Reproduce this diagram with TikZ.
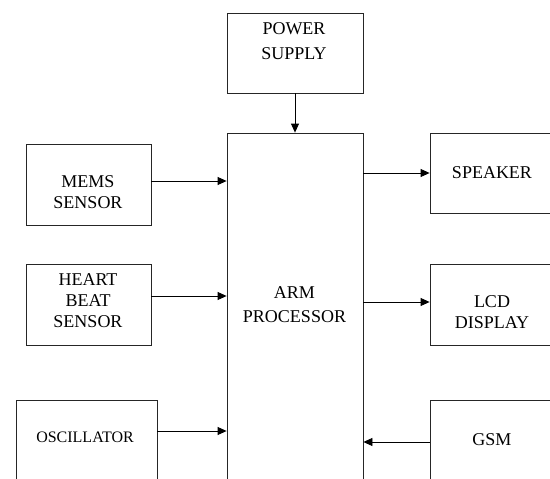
\documentclass[tikz,border=0pt]{standalone}
\usepackage{fontspec}
\setmainfont{Liberation Serif}
\usetikzlibrary{arrows.meta,positioning}

\tikzset{
  block/.style={draw=black!85, line width=0.8pt, inner sep=0pt},
  txt/.style={align=center, inner sep=0pt, font=\fontsize{18}{21}\selectfont},
  wide/.style={txt, font=\fontsize{18}{24.5}\selectfont}
}

\begin{document}
\begin{tikzpicture}[x=1pt, y=-1pt, >={Triangle[length=9pt,width=8pt]}]
  \useasboundingbox (0,0) rectangle (550,479);
  \clip (0,0) rectangle (550,479);
  % blocks
  \node[block, minimum width=136pt, minimum height=80pt] (power) at (295,53) {};
  \node[block, minimum width=136pt, minimum height=420pt] (arm) at (295,343) {};
  \node[block, minimum width=125pt, minimum height=81pt] (mems) at (88.5,184.5) {};
  \node[block, minimum width=125pt, minimum height=81pt] (heart) at (88.5,304.5) {};
  \node[block, minimum width=141pt, minimum height=90pt] (osc) at (86.5,445) {};
  \node[block, minimum width=124pt, minimum height=80pt] (speaker) at (492,173) {};
  \node[block, minimum width=124pt, minimum height=81pt] (lcd) at (492,304.5) {};
  \node[block, minimum width=124pt, minimum height=81pt] (gsm) at (492,440.5) {};
  % texts
  \node[wide] (powert) at (294,41) {POWER\\SUPPLY};
  \node[wide] (armt) at (294.5,304.5) {ARM\\PROCESSOR};
  \node[txt] (memst) at (88,192) {MEMS\\SENSOR};
  \node[txt] (heartt) at (88,301) {HEART\\BEAT\\SENSOR};
  \node[txt, font=\fontsize{16}{19}\selectfont] (osct) at (85,437) {OSCILLATOR};
  \node[txt] (speakert) at (492,173) {SPEAKER};
  \node[txt] (lcdt) at (492,312) {LCD\\DISPLAY};
  \node[txt] (gsmt) at (492,440) {GSM};
  % connections
  \draw[->, line width=0.8pt] (power) -- (arm);
  \draw[->, line width=0.8pt] ([yshift=3.5pt]mems.east) -- ([yshift=3.5pt]mems.east -| arm.west);
  \draw[->, line width=0.8pt] ([yshift=8.5pt]heart.east) -- ([yshift=8.5pt]heart.east -| arm.west);
  \draw[->, line width=0.8pt] ([yshift=14pt]osc.east) -- ([yshift=14pt]osc.east -| arm.west);
  \draw[->, line width=0.8pt] (speaker.west -| arm.east) -- (speaker.west);
  \draw[->, line width=0.8pt] ([yshift=2.5pt]lcd.west -| arm.east) -- ([yshift=2.5pt]lcd.west);
  \draw[->, line width=0.8pt] ([yshift=-1.5pt]gsm.west) -- ([yshift=-1.5pt]gsm.west -| arm.east);
\end{tikzpicture}
\end{document}
